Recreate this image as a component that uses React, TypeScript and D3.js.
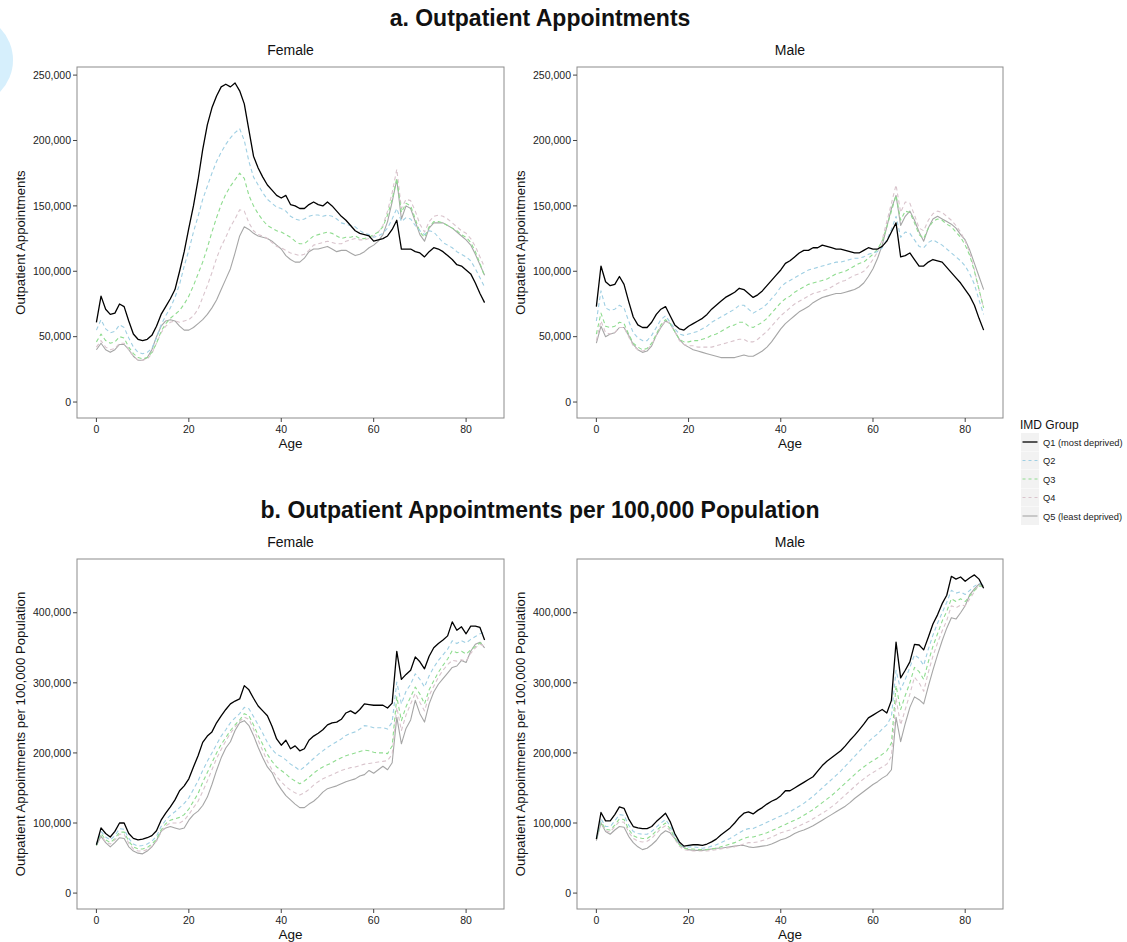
import React from "react";
import * as d3 from "d3";

const ages: number[] = d3.range(0, 85);
const groups = ["Q1 (most deprived)", "Q2", "Q3", "Q4", "Q5 (least deprived)"];
const xTicks = [0, 20, 40, 60, 80];
const yTicksTop = [0, 50000, 100000, 150000, 200000, 250000];
const yTicksBottom = [0, 100000, 200000, 300000, 400000];

// Female outpatient appointments (thousands), ages 0..84
const femaleQ1 = [61,81,71,67,68,75,73,62,52,48,47,48,51,58,67,73,79,86,100,115,133,150,170,193,212,225,234,241,243,241,244,238,228,208,188,179,172,166,162,158,156,158,151,150,148,148,151,153,151,150,153,150,146,142,139,135,131,129,128,127,123,124,125,127,132,139,117,117,117,115,114,111,115,118,117,115,112,109,105,104,101,98,91,83,76];
const femaleQ2 = [55,63,56,53,54,59,57,49,42,38,37,38,41,49,59,66,72,80,90,104,116,130,142,155,165,175,184,191,197,202,206,209,200,184,172,166,160,155,152,149,148,146,142,140,139,140,142,143,143,142,143,142,140,137,136,135,134,131,129,128,126,127,129,133,140,148,138,141,140,135,131,128,131,130,126,122,120,118,115,113,111,108,102,95,88];
const femaleQ3 = [46,52,47,45,46,50,49,42,37,34,33,34,38,45,54,60,64,67,70,75,81,89,98,107,118,130,141,151,159,165,170,175,171,158,150,144,139,135,133,131,130,128,126,123,121,121,124,127,128,129,130,129,127,125,126,126,127,125,125,126,128,130,134,143,155,171,145,152,150,140,130,126,134,138,138,137,135,133,131,128,126,122,115,106,96];
const femaleQ4 = [42,47,42,40,41,45,45,40,35,32,32,33,37,45,53,58,61,62,61,62,63,66,71,80,89,99,110,119,126,134,140,147,146,137,131,128,127,125,122,119,118,116,114,113,112,113,116,120,121,122,123,122,121,121,123,124,125,124,124,125,127,130,135,146,160,178,148,155,154,146,136,130,138,142,143,142,140,137,134,131,129,125,119,111,103];
const femaleQ5 = [40,45,40,38,40,44,44,40,35,32,32,34,40,50,58,62,63,62,58,55,55,57,60,63,67,72,78,86,94,102,114,127,134,132,129,127,126,125,123,120,117,112,109,107,107,110,115,117,117,118,119,117,115,116,116,114,112,113,115,118,120,123,128,138,153,170,140,150,148,138,128,123,133,137,137,137,135,133,130,127,124,120,113,105,97];

// Male outpatient appointments (thousands)
const maleQ1 = [73,104,92,89,90,96,90,77,65,59,57,57,61,67,71,73,66,59,56,55,58,60,62,64,67,71,74,77,80,82,84,87,86,83,80,82,85,89,93,97,101,106,108,111,114,116,116,118,118,120,119,118,117,117,116,115,114,114,116,118,117,117,119,123,130,137,111,112,114,109,104,104,107,109,108,107,103,99,95,91,86,81,74,64,55];
const maleQ2 = [62,85,72,70,71,74,72,62,53,49,47,47,51,57,63,66,61,56,52,51,52,53,54,56,58,61,63,65,67,69,71,74,74,71,68,70,72,75,79,83,88,91,93,95,97,99,101,102,103,104,105,106,107,107,108,109,110,110,111,113,114,115,118,124,132,142,126,130,129,124,119,118,122,124,122,120,117,114,111,108,104,98,90,78,67];
const maleQ3 = [52,68,58,57,58,61,60,52,45,42,40,41,45,52,59,63,60,54,48,46,46,47,47,48,49,51,52,54,56,58,59,61,61,58,57,59,61,64,68,72,76,79,81,84,86,88,90,91,92,93,94,96,98,99,100,102,104,106,107,110,113,117,123,134,146,158,139,146,145,137,128,125,133,138,140,139,136,134,130,126,120,112,100,86,72];
const maleQ4 = [47,62,53,52,53,57,57,50,43,40,39,40,44,51,58,62,60,54,47,44,43,43,42,42,42,42,43,44,45,46,47,48,48,46,46,48,51,54,58,62,66,69,72,75,77,79,81,83,84,85,86,88,90,92,93,95,97,98,100,104,109,115,124,138,152,166,145,153,152,143,133,131,139,144,146,145,142,139,135,130,123,114,101,86,72];
const maleQ5 = [45,58,50,52,53,57,57,51,44,40,38,39,43,51,57,62,60,54,48,44,42,40,39,38,37,36,35,34,34,34,34,35,36,35,35,37,39,42,46,51,56,60,63,66,69,71,73,76,78,80,81,82,83,83,84,85,86,88,91,96,102,110,120,134,148,158,135,142,146,139,130,123,133,140,142,140,138,136,133,128,124,116,106,96,86];

// Female appointments per 100,000 population (thousands)
const femaleRateQ1 = [69,93,85,80,88,100,100,85,78,76,77,79,82,89,104,114,123,133,146,153,163,180,196,215,224,230,243,253,262,270,274,277,296,290,278,267,260,253,238,220,211,218,206,210,203,206,218,224,228,233,240,243,244,248,257,260,256,262,270,269,268,268,268,264,271,345,305,312,318,337,330,320,338,350,356,361,367,387,375,380,370,381,381,379,361];
const femaleRateQ2 = [69,88,80,76,82,92,91,78,70,67,68,70,74,81,95,104,111,116,122,128,136,148,160,175,188,200,212,224,233,243,250,256,265,263,252,240,228,215,205,198,195,190,184,180,175,180,186,192,198,203,208,212,216,220,225,228,230,234,239,238,236,236,236,234,244,301,270,288,298,313,305,294,310,322,332,340,348,360,356,360,357,362,366,370,372];
const femaleRateQ3 = [68,85,76,72,78,87,87,74,66,63,63,65,70,77,90,99,104,106,108,112,120,131,142,158,172,186,200,212,222,232,240,247,256,253,240,225,212,198,188,180,175,170,164,160,156,160,165,171,176,180,183,186,190,193,196,198,200,202,204,203,201,200,200,199,210,280,246,266,280,294,284,270,290,303,315,325,334,346,343,345,341,347,352,357,355];
const femaleRateQ4 = [68,82,73,70,76,84,84,71,63,60,60,62,67,74,87,96,100,100,100,104,112,122,131,145,160,176,192,205,217,228,237,245,251,248,234,218,203,188,176,166,159,152,147,143,140,143,148,154,159,163,166,169,172,175,177,179,180,182,184,185,186,187,188,189,198,265,232,254,270,285,272,260,282,295,308,318,326,332,331,333,331,342,350,355,352];
const femaleRateQ5 = [68,81,72,66,72,79,78,66,60,57,56,60,66,75,88,93,95,93,91,93,104,112,117,125,137,155,175,193,207,216,232,243,246,239,225,208,193,180,172,158,148,139,133,127,122,122,127,131,137,144,149,151,153,156,159,161,163,167,169,175,171,176,181,176,186,251,213,235,247,275,256,244,270,287,298,306,314,322,324,332,329,345,355,358,350];

// Male appointments per 100,000 population (thousands)
const maleRateQ1 = [77,115,103,103,112,123,121,106,95,93,92,92,95,102,108,114,102,85,73,67,68,69,69,68,70,73,77,83,88,93,100,108,114,116,113,118,122,127,131,134,139,146,146,150,154,158,162,166,174,182,188,193,198,203,210,218,225,233,241,250,254,258,262,257,275,358,307,318,330,355,354,347,365,384,397,413,425,452,448,451,445,450,454,448,435];
const maleRateQ2 = [78,106,95,95,103,112,111,97,88,85,84,84,88,94,100,105,96,82,71,66,66,66,65,64,65,67,69,72,75,78,82,86,90,92,92,95,98,101,104,107,110,113,116,120,124,128,133,138,144,150,156,162,168,174,181,188,195,202,209,216,222,227,234,240,252,318,290,305,322,340,335,325,348,368,385,400,415,432,428,430,426,432,438,442,440];
const maleRateQ3 = [77,102,91,90,97,106,105,91,82,79,78,78,82,89,95,100,92,79,69,64,63,63,62,62,62,63,64,66,68,70,72,75,78,80,80,82,84,86,89,92,95,98,101,104,107,111,115,119,124,129,134,139,145,151,157,163,169,175,180,185,189,193,198,203,214,296,262,282,300,322,316,305,330,352,370,388,402,420,416,420,416,424,432,438,438];
const maleRateQ4 = [76,101,89,87,95,102,101,87,78,74,73,74,78,85,92,96,89,77,67,62,61,60,60,60,60,61,62,63,64,65,66,68,70,72,72,73,75,77,80,83,86,88,90,93,96,99,102,106,110,114,118,123,128,134,140,146,152,158,163,168,172,176,180,184,195,278,240,262,284,308,300,288,315,338,357,374,389,410,407,411,410,420,430,440,436];
const maleRateQ5 = [75,100,88,84,90,95,94,81,72,66,62,64,69,75,84,89,86,78,70,65,62,61,61,61,62,63,64,64,65,66,67,68,68,66,65,66,67,68,70,73,76,78,81,85,88,90,93,96,100,104,108,112,116,120,124,129,135,140,145,150,155,159,164,168,176,251,216,242,265,280,276,270,295,318,340,360,378,393,391,400,410,426,434,441,438];

const styles = [
  { color: "#000000", dash: "", width: 1.3 },
  { color: "#9fcfe3", dash: "4,3", width: 1.1 },
  { color: "#8fdc8f", dash: "4,3", width: 1.1 },
  { color: "#d9c4cc", dash: "4,3", width: 1.1 },
  { color: "#a6a6a6", dash: "", width: 1.1 },
];

const FONT = "'Liberation Sans', Arial, Helvetica, sans-serif";
const fmt = d3.format(",");

type PanelProps = {
  x0: number; x1: number; y0: number; y1: number;
  series: number[][]; yDomain: [number, number]; yTicks: number[];
  strip: string; yTitle: string;
};

function Panel({ x0, x1, y0, y1, series, yDomain, yTicks, strip, yTitle }: PanelProps) {
  const xs = d3.scaleLinear().domain([-4.2, 88.2]).range([x0, x1]);
  const ys = d3.scaleLinear().domain(yDomain).range([y1, y0]);
  const line = d3.line<number>().x((_, i) => xs(ages[i])).y((v) => ys(v * 1000));
  const order = [4, 3, 2, 1, 0];
  return (
    <g>
      <text x={(x0 + x1) / 2} y={y0 - 12} textAnchor="middle" fontSize={14} fill="#111" fontFamily={FONT}>{strip}</text>
      <rect x={x0} y={y0} width={x1 - x0} height={y1 - y0} fill="#fff" stroke="none" />
      {order.map((k) => (
        <path key={k} d={line(series[k]) || ""} fill="none" stroke={styles[k].color}
          strokeWidth={styles[k].width} strokeDasharray={styles[k].dash} strokeLinejoin="round" />
      ))}
      <rect x={x0} y={y0} width={x1 - x0} height={y1 - y0} fill="none" stroke="#8c8c8c" strokeWidth={1} />
      {xTicks.map((t) => (
        <g key={t}>
          <line x1={xs(t)} x2={xs(t)} y1={y1} y2={y1 + 4} stroke="#444" />
          <text x={xs(t)} y={y1 + 15} textAnchor="middle" fontSize={10.5} fill="#222" fontFamily={FONT}>{t}</text>
        </g>
      ))}
      {yTicks.map((t) => (
        <g key={t}>
          <line x1={x0 - 4} x2={x0} y1={ys(t)} y2={ys(t)} stroke="#444" />
          <text x={x0 - 6} y={ys(t) + 3.7} textAnchor="end" fontSize={10.5} fill="#222" fontFamily={FONT}>{fmt(t)}</text>
        </g>
      ))}
      <text x={(x0 + x1) / 2} y={y1 + 30} textAnchor="middle" fontSize={13.5} fill="#111" fontFamily={FONT}>Age</text>
      <text transform={`translate(${x0 - 52},${(y0 + y1) / 2}) rotate(-90)`} textAnchor="middle" fontSize={13.2} fill="#111" fontFamily={FONT}>{yTitle}</text>
    </g>
  );
}

function expand(maxVal: number): [number, number] {
  return [-0.05 * maxVal, 1.05 * maxVal];
}

export default function App() {
  const topSeries = [
    [femaleQ1, femaleQ2, femaleQ3, femaleQ4, femaleQ5],
    [maleQ1, maleQ2, maleQ3, maleQ4, maleQ5],
  ];
  const botSeries = [
    [femaleRateQ1, femaleRateQ2, femaleRateQ3, femaleRateQ4, femaleRateQ5],
    [maleRateQ1, maleRateQ2, maleRateQ3, maleRateQ4, maleRateQ5],
  ];
  const topMax = (d3.max(topSeries.flat(2)) || 0) * 1000;
  const botMax = (d3.max(botSeries.flat(2)) || 0) * 1000;
  const topDom = expand(topMax);
  const botDom = expand(botMax);

  const cols = [[77, 504], [577, 1003]];
  const strips = ["Female", "Male"];
  const legendY = [442, 460.5, 479, 497.5, 516];

  return (
    <svg width={1127} height={942} style={{ position: "absolute", left: 0, top: 0, background: "#fff" }}>
      <rect x={0} y={0} width={1127} height={942} fill="#fff" />
      <circle cx={-33} cy={60} r={46} fill="#d6effc" />
      <text x={540} y={26} textAnchor="middle" fontSize={23} fontWeight="bold" fill="#111" fontFamily={FONT}>a. Outpatient Appointments</text>
      <text x={540} y={518} textAnchor="middle" fontSize={23} fontWeight="bold" fill="#111" fontFamily={FONT}>b. Outpatient Appointments per 100,000 Population</text>
      {cols.map((c, i) => (
        <Panel key={"t" + i} x0={c[0]} x1={c[1]} y0={67} y1={418} series={topSeries[i]}
          yDomain={topDom} yTicks={yTicksTop} strip={strips[i]} yTitle="Outpatient Appointments" />
      ))}
      {cols.map((c, i) => (
        <Panel key={"b" + i} x0={c[0]} x1={c[1]} y0={559} y1={909} series={botSeries[i]}
          yDomain={botDom} yTicks={yTicksBottom} strip={strips[i]} yTitle="Outpatient Appointments per 100,000 Population" />
      ))}
      <text x={1020} y={429} fontSize={12} fill="#111" fontFamily={FONT}>IMD Group</text>
      {groups.map((g, k) => (
        <g key={g}>
          <rect x={1021} y={legendY[k] - 9} width={18} height={18} fill="#f2f2f2" />
          <line x1={1022.5} x2={1037.5} y1={legendY[k]} y2={legendY[k]} stroke={styles[k].color}
            strokeWidth={styles[k].width} strokeDasharray={k >= 1 && k <= 3 ? "3,3" : ""} />
          <text x={1043} y={legendY[k] + 3.5} fontSize={9.3} fill="#222" fontFamily={FONT}>{g}</text>
        </g>
      ))}
    </svg>
  );
}
